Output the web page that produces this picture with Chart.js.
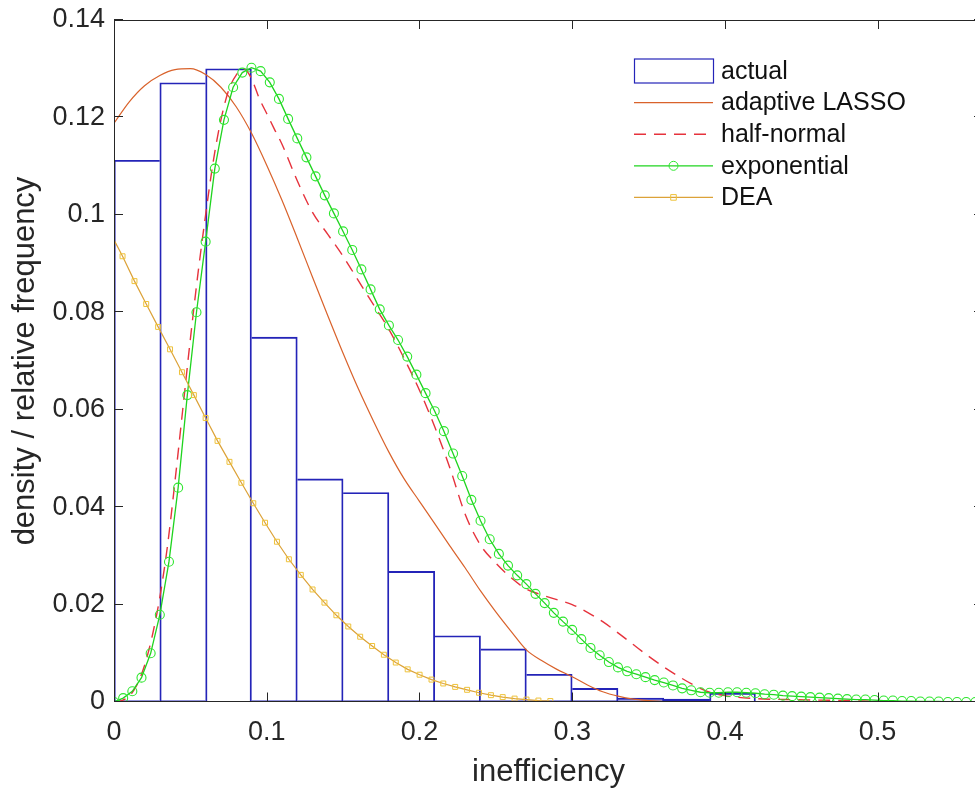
<!DOCTYPE html>
<html>
<head>
<meta charset="utf-8">
<script src="https://cdn.jsdelivr.net/npm/chart.js@4.4.1/dist/chart.umd.min.js"></script>
<style>
  html, body { margin: 0; padding: 0; background: #fff; overflow: hidden; }
  #wrap { position: absolute; left: 0; top: 0; width: 990px; height: 794px; }
</style>
</head>
<body>
<div id="wrap"><canvas id="chart" width="990" height="794"></canvas></div>
<script>
// Inefficiency distributions: histogram of actual values + four density estimates

// histogram (bin width 0.03)
const binCenters = [0.015, 0.045, 0.075, 0.105, 0.135, 0.165, 0.195, 0.225, 0.255, 0.285, 0.315, 0.345, 0.375, 0.405];
const binHeights = [0.1112, 0.1271, 0.1300, 0.0749, 0.0458, 0.0430, 0.0268, 0.0136, 0.0109, 0.0057, 0.0028, 0.0008, 0.0006, 0.0018];

// adaptive LASSO density
const lassoX = [0, 0.01, 0.02, 0.03, 0.04, 0.05, 0.06, 0.07, 0.08, 0.09,
  0.10, 0.11, 0.12, 0.13, 0.14, 0.15, 0.16, 0.17, 0.18, 0.19,
  0.20, 0.21, 0.22, 0.23, 0.24, 0.25, 0.26, 0.27, 0.28, 0.29,
  0.30, 0.31, 0.32, 0.33, 0.34, 0.35, 0.36, 0.38, 0.45, 0.57];
const lassoY = [0.1188, 0.1232, 0.1265, 0.1286, 0.1298, 0.1300, 0.1288, 0.1262, 0.1222, 0.1168,
  0.1102, 0.1030, 0.0952, 0.0872, 0.0793, 0.0716, 0.0643, 0.0576, 0.0513, 0.0458,
  0.0412, 0.0366, 0.0320, 0.0275, 0.0228, 0.0185, 0.0145, 0.0107, 0.0085, 0.0067,
  0.0052, 0.0035, 0.0021, 0.0012, 0.0006, 0.0003, 0.0001, 0.0000, 0.0000, 0.0000];

// half-normal density
const halfX = [0, 0.005, 0.01, 0.015, 0.02, 0.025, 0.03, 0.035, 0.04, 0.045,
  0.05, 0.055, 0.06, 0.065, 0.07, 0.075, 0.08, 0.085, 0.09, 0.095,
  0.10, 0.105, 0.11, 0.12, 0.13, 0.14, 0.15, 0.16, 0.17, 0.18,
  0.19, 0.20, 0.21, 0.22, 0.23, 0.24, 0.25, 0.26, 0.27, 0.28,
  0.29, 0.30, 0.31, 0.32, 0.33, 0.34, 0.35, 0.36, 0.37, 0.38,
  0.39, 0.40, 0.42, 0.44, 0.46, 0.48, 0.50, 0.52, 0.57];
const halfY = [0, 0.0003, 0.0012, 0.0035, 0.0075, 0.0135, 0.0215, 0.0320, 0.0455, 0.0600,
  0.0745, 0.0880, 0.1000, 0.1110, 0.1195, 0.1255, 0.1287, 0.1300, 0.1280, 0.1240,
  0.1208, 0.1176, 0.1145, 0.1070, 0.1005, 0.0960, 0.0915, 0.0865, 0.0815, 0.0765,
  0.0705, 0.0640, 0.0565, 0.0480, 0.0385, 0.0322, 0.0285, 0.0255, 0.0232, 0.0220,
  0.0210, 0.0200, 0.0184, 0.0165, 0.0142, 0.0118, 0.0094, 0.0072, 0.0052, 0.0034,
  0.0020, 0.0013, 0.0007, 0.0005, 0.0004, 0.0003, 0.0001, 0.0000, 0.0000];

// exponential density (marked)
const expX = [0, 0.006, 0.012, 0.018, 0.024, 0.030, 0.036, 0.042, 0.048, 0.054,
  0.060, 0.066, 0.072, 0.078, 0.084, 0.090, 0.096, 0.102, 0.108, 0.114,
  0.120, 0.126, 0.132, 0.138, 0.144, 0.150, 0.156, 0.162, 0.168, 0.174,
  0.180, 0.186, 0.192, 0.198, 0.204, 0.210, 0.216, 0.222, 0.228, 0.234,
  0.240, 0.246, 0.252, 0.258, 0.264, 0.270, 0.276, 0.282, 0.288, 0.294,
  0.300, 0.306, 0.312, 0.318, 0.324, 0.330, 0.336, 0.342, 0.348, 0.354,
  0.360, 0.366, 0.372, 0.378, 0.384, 0.390, 0.396, 0.402, 0.408, 0.414,
  0.420, 0.426, 0.432, 0.438, 0.444, 0.450, 0.456, 0.462, 0.468, 0.474,
  0.480, 0.486, 0.492, 0.498, 0.504, 0.510, 0.516, 0.522, 0.528, 0.534,
  0.540, 0.546, 0.552, 0.558, 0.564];
const expY = [0, 0.0008, 0.0022, 0.0050, 0.0100, 0.0179, 0.0288, 0.0440, 0.0630, 0.0800,
  0.0945, 0.1095, 0.1195, 0.1262, 0.1292, 0.1302, 0.1295, 0.1272, 0.1238, 0.1197,
  0.1157, 0.1118, 0.1079, 0.1040, 0.1003, 0.0966, 0.0928, 0.0888, 0.0847, 0.0806,
  0.0773, 0.0743, 0.0709, 0.0672, 0.0634, 0.0597, 0.0556, 0.0510, 0.0464, 0.0415,
  0.0372, 0.0334, 0.0304, 0.0280, 0.0260, 0.0242, 0.0222, 0.0203, 0.0183, 0.0165,
  0.0148, 0.0129, 0.0111, 0.0096, 0.0082, 0.0071, 0.0063, 0.0057, 0.0051, 0.0045,
  0.0040, 0.0034, 0.0028, 0.0024, 0.0020, 0.0019, 0.0019, 0.0020, 0.0020, 0.0019,
  0.0018, 0.0016, 0.0015, 0.0013, 0.0012, 0.0011, 0.0010, 0.0009, 0.0008, 0.0007,
  0.0006, 0.0005, 0.0005, 0.0004, 0.0003, 0.0003, 0.0002, 0.0002, 0.0001, 0.0001,
  0.0001, 0.0000, 0.0000, 0.0000, 0.0000];

// DEA density (marked)
const deaX = [-0.0022, 0.0056, 0.0134, 0.0211, 0.0289, 0.0367, 0.0445, 0.0523, 0.0600, 0.0678,
  0.0756, 0.0834, 0.0912, 0.0989, 0.1067, 0.1145, 0.1223, 0.1300, 0.1378, 0.1456,
  0.1534, 0.1612, 0.1690, 0.1767, 0.1845, 0.1923, 0.2001, 0.2079, 0.2156, 0.2234,
  0.2312, 0.2390, 0.2468, 0.2545, 0.2623, 0.2701, 0.2779, 0.2857];
const deaY = [0.0962, 0.0915, 0.0864, 0.0817, 0.0770, 0.0724, 0.0677, 0.0630, 0.0583, 0.0536,
  0.0493, 0.0450, 0.0408, 0.0368, 0.0329, 0.0293, 0.0261, 0.0231, 0.0204, 0.0178,
  0.0155, 0.0134, 0.0115, 0.0097, 0.0081, 0.0067, 0.0056, 0.0046, 0.0038, 0.0031,
  0.0025, 0.0019, 0.0014, 0.0010, 0.0007, 0.0005, 0.0003, 0.0002];

const xTicks = [0, 0.1, 0.2, 0.3, 0.4, 0.5];
const yTicks = [0, 0.02, 0.04, 0.06, 0.08, 0.1, 0.12, 0.14];

const FONT = '"Liberation Sans", Arial, Helvetica, sans-serif';
const AXIS_COLOR = '#262626';
const TICK_LEN = 9;

const pts = (xs, ys) => xs.map((x, i) => ({ x, y: ys[i] }));

// shared bar edges are drawn only once (by the taller neighbour)
function skipSharedEdge(ctx) {
    const i = ctx.dataIndex;
    const h = binHeights[i];
    if (i > 0 && binHeights[i - 1] >= h) return 'left';
    if (i < binHeights.length - 1 && binHeights[i + 1] > h) return 'right';
    return 'bottom';
}

// MATLAB-like box with inward ticks on all four sides
const axisBox = {
    id: 'axisBox',
    afterDatasetsDraw(chart) {
        const { ctx, chartArea: a, scales: { x, y } } = chart;
        const bottom = Math.round(a.bottom) - 0.5;
        ctx.save();
        ctx.strokeStyle = AXIS_COLOR;
        ctx.lineWidth = 1;
        ctx.beginPath();
        ctx.moveTo(a.left + 0.5, bottom);
        ctx.lineTo(a.left + 0.5, a.top + 0.5);
        ctx.lineTo(a.right + 0.5, a.top + 0.5);
        ctx.lineTo(a.right + 0.5, bottom);
        ctx.closePath();
        xTicks.forEach(v => {
            const px = Math.round(x.getPixelForValue(v)) + 0.5;
            ctx.moveTo(px, bottom); ctx.lineTo(px, bottom - TICK_LEN);
            ctx.moveTo(px, a.top); ctx.lineTo(px, a.top + TICK_LEN);
        });
        yTicks.forEach(v => {
            const py = Math.round(y.getPixelForValue(v)) - 0.5;
            ctx.moveTo(a.left, py); ctx.lineTo(a.left + TICK_LEN, py);
            ctx.moveTo(a.right, py); ctx.lineTo(a.right - TICK_LEN, py);
        });
        ctx.stroke();
        ctx.restore();
    }
};

// legend drawn in the MATLAB style (80px icons, marker in the middle)
const matlabLegend = {
    id: 'matlabLegend',
    afterDraw(chart) {
        const { ctx } = chart;
        const x0 = 634, x1 = 713, tx = 721, top = 71, row = 31.6;
        ctx.save();
        chart.data.datasets.forEach((ds, i) => {
            const cy = top + i * row;
            if (ds.type === 'bar') {
                ctx.strokeStyle = ds.borderColor;
                ctx.lineWidth = 1.2;
                ctx.strokeRect(x0 + 0.5, cy - 12, x1 - x0, 24);
            } else {
                ctx.strokeStyle = ds.borderColor;
                ctx.lineWidth = ds.borderWidth;
                ctx.setLineDash(ds.borderDash || []);
                ctx.beginPath();
                ctx.moveTo(x0, cy); ctx.lineTo(x1, cy);
                ctx.stroke();
                ctx.setLineDash([]);
                if (ds.pointRadius > 0) {
                    const mx = (x0 + x1) / 2, r = ds.pointRadius;
                    ctx.strokeStyle = ds.pointBorderColor;
                    ctx.lineWidth = 1;
                    ctx.beginPath();
                    if (ds.pointStyle === 'rect') ctx.rect(mx - r * 0.8, cy - r * 0.8, r * 1.6, r * 1.6);
                    else ctx.arc(mx, cy, r, 0, Math.PI * 2);
                    ctx.stroke();
                }
            }
            ctx.fillStyle = '#111';
            ctx.font = '25px ' + FONT;
            ctx.textAlign = 'left';
            ctx.textBaseline = 'middle';
            ctx.fillText(ds.label, tx, cy + 1);
        });
        ctx.restore();
    }
};

new Chart(document.getElementById('chart'), {
    type: 'line',
    data: {
        datasets: [
            {
                type: 'bar',
                label: 'actual',
                data: pts(binCenters, binHeights),
                backgroundColor: 'rgba(0,0,0,0)',
                borderColor: '#2424b8',
                borderWidth: 1.2,
                borderSkipped: skipSharedEdge,
                barPercentage: 1,
                categoryPercentage: 1,
                order: 4
            },
            {
                label: 'adaptive LASSO',
                data: pts(lassoX, lassoY),
                borderColor: '#d9622b',
                borderWidth: 1.2,
                pointRadius: 0,
                cubicInterpolationMode: 'monotone',
                order: 3
            },
            {
                label: 'half-normal',
                data: pts(halfX, halfY),
                borderColor: '#e6323c',
                borderWidth: 1.4,
                borderDash: [12, 8],
                pointRadius: 0,
                cubicInterpolationMode: 'monotone',
                order: 2
            },
            {
                label: 'exponential',
                data: pts(expX, expY),
                borderColor: '#1fd41f',
                borderWidth: 1.3,
                pointStyle: 'circle',
                pointRadius: 4.5,
                pointBorderColor: '#2ee62e',
                pointBackgroundColor: 'rgba(0,0,0,0)',
                pointBorderWidth: 1.1,
                order: 1
            },
            {
                label: 'DEA',
                data: pts(deaX, deaY),
                borderColor: '#dca238',
                borderWidth: 1.2,
                pointStyle: 'rect',
                pointRadius: 3.5,
                pointBorderColor: '#eec23a',
                pointBackgroundColor: 'rgba(0,0,0,0)',
                pointBorderWidth: 1,
                order: 0
            }
        ]
    },
    options: {
        responsive: false,
        animation: false,
        devicePixelRatio: 1,
        layout: { padding: { top: 20, right: 7, left: 0, bottom: 0 } },
        plugins: {
            legend: { display: false },
            tooltip: { enabled: false }
        },
        scales: {
            x: {
                type: 'linear',
                min: 0,
                max: 0.569,
                offset: false,
                grid: { display: false, drawTicks: false },
                border: { display: false },
                afterBuildTicks(scale) { scale.ticks = xTicks.map(v => ({ value: v })); },
                afterFit(scale) { scale.height = 92; scale.paddingLeft = 0; scale.paddingRight = 0; },
                ticks: {
                    color: AXIS_COLOR,
                    font: { family: FONT, size: 27 },
                    padding: 14,
                    maxRotation: 0,
                    callback: v => String(+v.toFixed(2))
                },
                title: {
                    display: true,
                    text: 'inefficiency',
                    color: AXIS_COLOR,
                    font: { family: FONT, size: 31 },
                    padding: { top: 0, bottom: 3 }
                }
            },
            y: {
                type: 'linear',
                min: 0,
                max: 0.14,
                grid: { display: false, drawTicks: false },
                border: { display: false },
                afterBuildTicks(scale) { scale.ticks = yTicks.map(v => ({ value: v })); },
                afterFit(scale) { scale.width = 114; scale.paddingTop = 0; scale.paddingBottom = 0; },
                ticks: {
                    color: AXIS_COLOR,
                    font: { family: FONT, size: 27 },
                    padding: 9,
                    callback: v => String(+v.toFixed(2))
                },
                title: {
                    display: true,
                    text: 'density / relative frequency',
                    color: AXIS_COLOR,
                    font: { family: FONT, size: 31 },
                    padding: { top: 7, bottom: 0 }
                }
            }
        }
    },
    plugins: [axisBox, matlabLegend]
});
</script>
</body>
</html>
